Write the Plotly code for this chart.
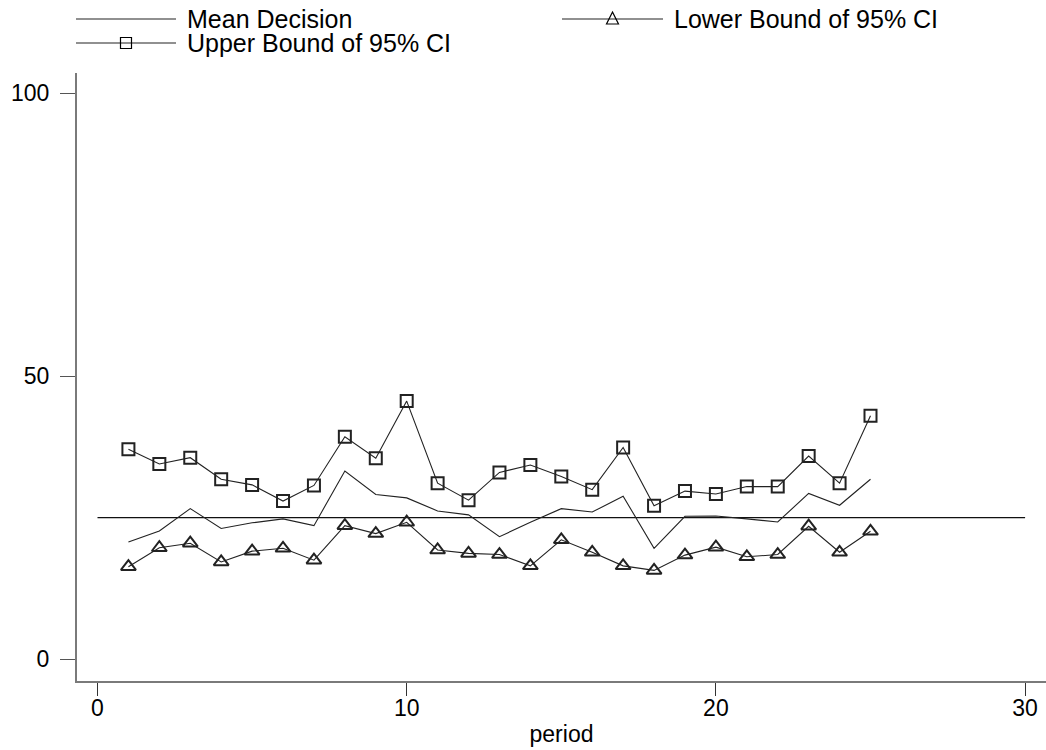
import plotly.graph_objects as go

period = list(range(1, 26))
mean_decision = [20.7, 22.65, 26.6, 23.1, 24.1, 24.8, 23.6, 33.25, 29.1, 28.5,
                 26.2, 25.5, 21.65, 24.2, 26.6, 26.0, 28.8, 19.6, 25.25, 25.3,
                 24.8, 24.25, 29.3, 27.2, 31.8]
upper_ci = [37.1, 34.5, 35.6, 31.8, 30.8, 27.95, 30.7, 39.3, 35.5, 45.6,
            31.1, 28.1, 33.0, 34.3, 32.3, 29.95, 37.4, 27.1, 29.7, 29.2,
            30.5, 30.5, 35.9, 31.1, 43.0]
lower_ci = [16.35, 19.7, 20.5, 17.2, 19.1, 19.6, 17.5, 23.6, 22.2, 24.2,
            19.3, 18.7, 18.5, 16.5, 21.1, 18.9, 16.5, 15.7, 18.4, 19.8,
            18.1, 18.5, 23.5, 18.9, 22.6]
ref_x = [0, 30]
ref_y = [25, 25]

x_ticks = [0, 10, 20, 30]
y_ticks = [0, 50, 100]

FONT = "Liberation Sans, Arial, Helvetica, sans-serif"
W, H = 1046, 750
ML, MR, MT, MB = 77, 0, 73, 69
PW, PH = W - ML - MR, H - MT - MB

fig = go.Figure()
fig.add_trace(go.Scatter(x=ref_x, y=ref_y, mode="lines",
                         line=dict(color="#111111", width=1.2), showlegend=False,
                         hoverinfo="skip"))
fig.add_trace(go.Scatter(x=period, y=mean_decision, mode="lines", name="Mean Decision",
                         line=dict(color="#222222", width=1.1), showlegend=False))
fig.add_trace(go.Scatter(x=period, y=lower_ci, mode="lines+markers",
                         name="Lower Bound of 95% CI",
                         line=dict(color="#222222", width=1.1),
                         marker=dict(symbol="triangle-up-open", size=13,
                                     line=dict(color="#000000", width=2)),
                         showlegend=False))
fig.add_trace(go.Scatter(x=period, y=upper_ci, mode="lines+markers",
                         name="Upper Bound of 95% CI",
                         line=dict(color="#222222", width=1.1),
                         marker=dict(symbol="square-open", size=12,
                                     line=dict(color="#000000", width=2)),
                         showlegend=False))


def px_to_paper(px, py):
    return (px - ML) / PW, (H - MB - py) / PH


shapes = []
annotations = []
legend_items = [
    ("Mean Decision", 76, 176, 19, None),
    ("Upper Bound of 95% CI", 76, 176, 43, "square"),
    ("Lower Bound of 95% CI", 562, 663, 19, "triangle"),
]
for label, x0p, x1p, yp, sym in legend_items:
    ax0, ay = px_to_paper(x0p, yp)
    ax1, _ = px_to_paper(x1p, yp)
    shapes.append(dict(type="line", xref="paper", yref="paper", x0=ax0, x1=ax1,
                       y0=ay, y1=ay, line=dict(color="#222222", width=1.1)))
    tx, ty = px_to_paper(x1p + 9, yp)
    annotations.append(dict(text=label, xref="paper", yref="paper", x=tx, y=ty,
                            xanchor="left", yanchor="middle", showarrow=False,
                            font=dict(family=FONT, size=25, color="#000000")))
    cx = (x0p + x1p) / 2
    if sym == "square":
        s = 5.5
        pts = [(cx - s, yp - s), (cx + s, yp - s), (cx + s, yp + s), (cx - s, yp + s)]
    elif sym == "triangle":
        s = 6
        pts = [(cx, yp - s - 1), (cx + s, yp + s - 1), (cx - s, yp + s - 1)]
    else:
        pts = None
    if pts:
        pp = [px_to_paper(a, b) for a, b in pts]
        path = "M " + " L ".join(f"{a:.5f},{b:.5f}" for a, b in pp) + " Z"
        shapes.append(dict(type="path", xref="paper", yref="paper", path=path,
                           line=dict(color="#000000", width=1.2)))

x0 = -(97.5 - ML) / 30.92
x1 = x0 + PW / 30.92
y0 = -(681 - 659.3) / 5.663
y1 = (659.3 - 73) / 5.663

fig.update_layout(
    width=W, height=H,
    margin=dict(l=ML, r=MR, t=MT, b=MB, pad=0),
    plot_bgcolor="white", paper_bgcolor="white",
    font=dict(family=FONT, size=23, color="#000000"),
    shapes=shapes, annotations=annotations,
    showlegend=False,
    xaxis=dict(range=[x0, x1], tickvals=x_ticks, showgrid=False, zeroline=False,
               showline=True, linecolor="#7a7a7a", linewidth=2,
               ticks="outside", ticklen=13, tickwidth=1, tickcolor="#333333",
               ticklabelstandoff=-8,
               tickfont=dict(family=FONT, size=23, color="#000000"),
               title=dict(text="period", font=dict(family=FONT, size=23, color="#000000"),
                          standoff=6)),
    yaxis=dict(range=[y0, y1], tickvals=y_ticks, showgrid=False, zeroline=False,
               showline=True, linecolor="#7a7a7a", linewidth=2,
               ticks="outside", ticklen=15, tickwidth=1, tickcolor="#555555",
               ticklabelstandoff=6,
               tickfont=dict(family=FONT, size=23, color="#000000")),
)

fig.write_html("out.html")
